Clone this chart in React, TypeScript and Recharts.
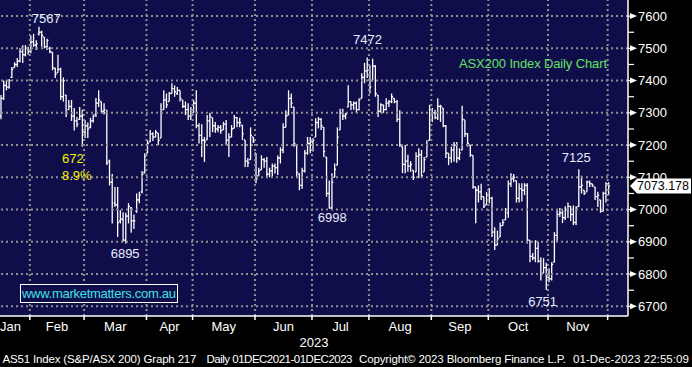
import React from "react";
import {
  ComposedChart,
  Bar,
  XAxis,
  YAxis,
  CartesianGrid,
  ReferenceLine,
  ReferenceDot,
} from "recharts";

// daily bars, [open, high, low, close], one small list per month (2023)
type Row = [number, number, number, number];

const jan: Row[] = [
  [7290, 7355, 7280, 7345], [7345, 7400, 7340, 7385], [7385, 7400, 7370, 7380],
  [7380, 7405, 7375, 7400], [7410, 7442, 7408, 7435], [7440, 7457, 7440, 7450],
  [7450, 7470, 7442, 7460], [7460, 7500, 7457, 7490], [7490, 7510, 7455, 7480],
  [7480, 7510, 7475, 7500], [7500, 7505, 7480, 7490],
];
const feb: Row[] = [
  [7490, 7540, 7485, 7520], [7520, 7545, 7505, 7510], [7510, 7525, 7495, 7515],
  [7545, 7567, 7540, 7550], [7550, 7555, 7505, 7540], [7535, 7535, 7500, 7505],
  [7505, 7530, 7495, 7525], [7500, 7505, 7485, 7490], [7488, 7488, 7432, 7440],
  [7438, 7440, 7408, 7420], [7425, 7480, 7425, 7435], [7435, 7440, 7340, 7350],
  [7350, 7410, 7335, 7400], [7355, 7355, 7287, 7300], [7310, 7340, 7310, 7320],
  [7320, 7340, 7275, 7290], [7290, 7315, 7245, 7275], [7275, 7287, 7255, 7265],
  [7280, 7318, 7278, 7290], [7290, 7310, 7195, 7240],
];
const mar: Row[] = [
  [7240, 7278, 7222, 7260], [7260, 7270, 7222, 7250], [7255, 7284, 7252, 7275],
  [7275, 7295, 7270, 7290], [7295, 7346, 7287, 7330], [7330, 7370, 7318, 7340],
  [7335, 7335, 7300, 7305], [7305, 7330, 7295, 7310], [7300, 7310, 7138, 7145],
  [7150, 7155, 7075, 7085], [7085, 7110, 6957, 7000], [7020, 7070, 7008, 7015],
  [7015, 7070, 6915, 6960], [6965, 6998, 6957, 6970], [6970, 6992, 6900, 6905],
  [6905, 6990, 6895, 6980], [6980, 7020, 6957, 7010], [7005, 7008, 6928, 6965],
  [6965, 6985, 6940, 6965], [6995, 7050, 6990, 7030], [7030, 7055, 7020, 7045],
  [7055, 7120, 7050, 7110], [7115, 7175, 7112, 7165],
];
const apr: Row[] = [
  [7175, 7215, 7175, 7205], [7210, 7247, 7210, 7235], [7235, 7240, 7213, 7225],
  [7225, 7247, 7225, 7240], [7237, 7237, 7200, 7215], [7222, 7330, 7222, 7300],
  [7310, 7370, 7310, 7340], [7340, 7360, 7315, 7325], [7335, 7365, 7335, 7360],
  [7360, 7392, 7360, 7375], [7375, 7385, 7350, 7365], [7360, 7380, 7355, 7370],
  [7370, 7370, 7335, 7345], [7340, 7340, 7315, 7320], [7320, 7335, 7293, 7310],
  [7310, 7330, 7278, 7290], [7290, 7318, 7278, 7300],
];
const may: Row[] = [
  [7300, 7340, 7300, 7330], [7330, 7370, 7252, 7260], [7260, 7268, 7205, 7230],
  [7230, 7265, 7163, 7215], [7215, 7225, 7148, 7210], [7216, 7293, 7216, 7275],
  [7275, 7300, 7225, 7290], [7285, 7285, 7240, 7260], [7260, 7272, 7238, 7250],
  [7250, 7262, 7240, 7255], [7255, 7262, 7235, 7245], [7247, 7272, 7247, 7265],
  [7265, 7278, 7200, 7215], [7215, 7237, 7163, 7225], [7225, 7262, 7225, 7250],
  [7252, 7293, 7252, 7285], [7285, 7287, 7255, 7270], [7270, 7285, 7255, 7270],
  [7262, 7262, 7216, 7235], [7216, 7216, 7132, 7150], [7150, 7160, 7132, 7145],
  [7155, 7255, 7155, 7230], [7225, 7225, 7207, 7210],
];
const jun: Row[] = [
  [7175, 7175, 7082, 7095], [7105, 7130, 7105, 7120], [7123, 7168, 7123, 7155],
  [7155, 7160, 7130, 7150], [7150, 7163, 7098, 7110], [7110, 7130, 7100, 7120],
  [7120, 7143, 7103, 7135], [7135, 7143, 7112, 7130], [7130, 7168, 7107, 7160],
  [7160, 7193, 7143, 7185], [7185, 7268, 7175, 7255], [7255, 7308, 7255, 7290],
  [7293, 7370, 7293, 7345], [7345, 7360, 7315, 7330], [7318, 7318, 7195, 7205],
  [7200, 7200, 7100, 7115], [7110, 7113, 7060, 7075], [7075, 7130, 7065, 7120],
  [7120, 7185, 7115, 7175], [7175, 7225, 7170, 7205], [7205, 7225, 7175, 7210],
];
const jul: Row[] = [
  [7210, 7222, 7180, 7215], [7225, 7283, 7225, 7270], [7270, 7287, 7252, 7280],
  [7280, 7283, 7247, 7260], [7255, 7255, 7163, 7180], [7163, 7163, 7040, 7050],
  [7050, 7090, 7003, 7005], [7005, 7113, 6998, 7085], [7100, 7143, 7100, 7125],
  [7138, 7255, 7138, 7225], [7247, 7313, 7247, 7300], [7300, 7313, 7278, 7290],
  [7290, 7300, 7280, 7295], [7318, 7386, 7318, 7335], [7335, 7335, 7308, 7325],
  [7325, 7335, 7310, 7330], [7330, 7335, 7300, 7310], [7310, 7345, 7308, 7340],
  [7345, 7423, 7345, 7410], [7410, 7455, 7392, 7430], [7430, 7472, 7408, 7450],
];
const aug: Row[] = [
  [7448, 7448, 7360, 7380], [7400, 7468, 7400, 7445], [7445, 7448, 7350, 7360],
  [7355, 7355, 7287, 7305], [7305, 7330, 7300, 7325], [7325, 7325, 7300, 7310],
  [7310, 7345, 7308, 7330], [7330, 7340, 7318, 7335], [7335, 7360, 7330, 7350],
  [7345, 7345, 7330, 7335], [7335, 7340, 7272, 7280], [7280, 7308, 7195, 7200],
  [7195, 7195, 7113, 7140], [7140, 7200, 7113, 7150], [7150, 7170, 7117, 7135],
  [7135, 7150, 7117, 7140], [7122, 7122, 7092, 7100], [7117, 7178, 7117, 7165],
  [7165, 7190, 7098, 7170], [7170, 7185, 7098, 7105], [7117, 7163, 7117, 7155],
  [7163, 7215, 7163, 7200], [7215, 7325, 7215, 7310],
];
const sep: Row[] = [
  [7310, 7315, 7272, 7300], [7300, 7310, 7280, 7285], [7285, 7345, 7278, 7320],
  [7320, 7325, 7272, 7320], [7315, 7315, 7255, 7260], [7260, 7262, 7160, 7175],
  [7175, 7175, 7138, 7160], [7160, 7195, 7145, 7185], [7185, 7210, 7148, 7200],
  [7200, 7210, 7145, 7160], [7160, 7190, 7153, 7175], [7185, 7322, 7185, 7280],
  [7278, 7278, 7225, 7235], [7235, 7237, 7195, 7205], [7200, 7200, 7163, 7170],
  [7168, 7168, 7065, 7070], [7070, 7070, 6958, 7060], [7060, 7075, 7022, 7055],
  [7055, 7080, 7030, 7040], [7040, 7040, 7005, 7010], [7015, 7055, 7015, 7045],
];
const oct: Row[] = [
  [7045, 7067, 7020, 7035], [7035, 7040, 6915, 6930], [6930, 6945, 6875, 6890],
  [6890, 6935, 6890, 6910], [6915, 6960, 6915, 6950], [6950, 6970, 6950, 6960],
  [6968, 7005, 6968, 7000], [6990, 7090, 6975, 7080], [7080, 7113, 7070, 7095],
  [7095, 7110, 7085, 7100], [7090, 7090, 7022, 7035], [7035, 7082, 7022, 7065],
  [7065, 7082, 7025, 7060], [7060, 7082, 7045, 7075], [7075, 7082, 6895, 6905],
  [6905, 6905, 6837, 6855], [6855, 6865, 6843, 6850], [6850, 6905, 6837, 6880],
  [6880, 6900, 6835, 6840], [6840, 6852, 6780, 6800], [6803, 6850, 6803, 6820],
  [6820, 6835, 6751, 6790],
];
const nov: Row[] = [
  [6790, 6818, 6775, 6785], [6785, 6837, 6780, 6830], [6837, 6930, 6837, 6920],
  [6920, 6998, 6900, 6985], [6985, 7005, 6977, 6990], [6990, 6998, 6958, 6975],
  [6975, 7010, 6968, 7000], [7000, 7022, 6974, 7010], [7010, 7010, 6965, 6985],
  [6985, 7013, 6952, 6960], [6960, 7010, 6952, 7005], [7010, 7125, 7008, 7070],
  [7070, 7105, 7050, 7075], [7060, 7060, 7045, 7050], [7055, 7090, 7055, 7085],
  [7085, 7090, 7070, 7080], [7080, 7080, 7070, 7075], [7070, 7070, 7030, 7040],
  [7040, 7055, 7008, 7045], [7030, 7030, 6990, 6995], [6995, 7055, 6995, 7050],
  [7050, 7085, 7022, 7080],
];
const dec: Row[] = [[7080, 7085, 7045, 7073.178]];

const monthNames = ["Jan", "Feb", "Mar", "Apr", "May", "Jun", "Jul", "Aug", "Sep", "Oct", "Nov"];
const monthRows = [jan, feb, mar, apr, may, jun, jul, aug, sep, oct, nov, dec];

const lastPrice = 7073.178;
// last price goes last so its tag is painted over the 7100 label, as in the original
const priceTicks = [
  6700, 6750, 6800, 6850, 6900, 6950, 7000, 7050, 7100, 7150, 7200,
  7250, 7300, 7350, 7400, 7450, 7500, 7550, 7600, 7073.178,
];

// bar index + price for the swing labels
const swings = [
  { bar: 14, value: 7567, text: "7567", dx: 7, dy: -4 },
  { bar: 46, value: 6895, text: "6895", dx: -1, dy: 15 },
  { bar: 122, value: 6998, text: "6998", dx: 0, dy: 12 },
  { bar: 135, value: 7472, text: "7472", dx: 0, dy: -13 },
  { bar: 213, value: 7125, text: "7125", dx: -3, dy: -7 },
  { bar: 201, value: 6751, text: "6751", dx: -4, dy: 16 },
];

const data: { i: number; o: number; h: number; l: number; c: number }[] = [];
const boundaries: number[] = [];
const monthMid: number[] = [];
{
  let i = 0;
  monthRows.forEach((rows, m) => {
    const start = i;
    rows.forEach(([o, h, l, c]) => {
      data.push({ i, o, h, l, c });
      i++;
    });
    if (m > 0) boundaries.push(start - 0.5);
    if (m < monthNames.length) monthMid.push(m === 0 ? 3.4 : (start + i - 1) / 2);
  });
}
const boundarySet = new Set(boundaries);

const NAVY = "#100e4a";
const GRID = "#8f8f8f";
const FONT = "'Liberation Sans', Arial, sans-serif";

function OhlcBar(props: any) {
  const { x, y, width, height, payload } = props;
  if (height == null || payload == null) return null;
  const cx = x + width / 2;
  const range = payload.h - payload.l || 1;
  const yo = y + ((payload.h - payload.o) / range) * height;
  const yc = y + ((payload.h - payload.c) / range) * height;
  return (
    <g stroke="#fff" strokeWidth={1.3}>
      <line x1={cx} x2={cx} y1={y} y2={y + height} />
      <line x1={cx - 1.4} x2={cx} y1={yo} y2={yo} />
      <line x1={cx} x2={cx + 1.4} y1={yc} y2={yc} />
    </g>
  );
}

function MonthTick(props: any) {
  const { x, y, payload } = props;
  const v = payload.value;
  if (boundarySet.has(v)) {
    return <line x1={x} x2={x} y1={y} y2={y + 4} stroke="#fff" strokeWidth={1.5} />;
  }
  const idx = monthMid.indexOf(v);
  return (
    <text x={x} y={y + 15} fill="#fff" fontSize={13} fontFamily={FONT} textAnchor="middle">
      {monthNames[idx]}
    </text>
  );
}

function PriceTick(props: any) {
  const { x, y, payload } = props;
  const v = payload.value;
  if (v === lastPrice) {
    return (
      <g>
        <polygon
          points={`${x + 2},${y} ${x + 9},${y - 7.5} ${x + 63},${y - 7.5} ${x + 63},${y + 7.5} ${x + 9},${y + 7.5}`}
          fill="#fff"
        />
        <text
          x={x + 9}
          y={y + 4.5}
          fill="#000"
          fontSize={13}
          fontFamily={FONT}
          textLength={52}
          lengthAdjust="spacingAndGlyphs"
        >
          {v.toFixed(3)}
        </text>
      </g>
    );
  }
  if (v % 100 !== 0) {
    return <line x1={x} x2={x + 6} y1={y} y2={y} stroke="#fff" strokeWidth={1.2} />;
  }
  return (
    <g>
      <line x1={x} x2={x + 3} y1={y} y2={y} stroke="#fff" strokeWidth={1.2} />
      <polygon points={`${x + 2},${y - 3} ${x + 9},${y} ${x + 2},${y + 3}`} fill="#fff" />
      <text x={x + 10} y={y + 4.5} fill="#fff" fontSize={13} fontFamily={FONT}>
        {v}
      </text>
    </g>
  );
}

function swingLabel(s: (typeof swings)[number]) {
  return (p: any) => {
    const vb = p.viewBox || {};
    const cx = vb.x + (vb.width || 0) / 2;
    const cy = vb.y + (vb.height || 0) / 2;
    return (
      <text x={cx + s.dx} y={cy + s.dy} fill="#e6ecff" fontSize={13} fontFamily={FONT} textAnchor="middle">
        {s.text}
      </text>
    );
  };
}

export default function App() {
  const gridY = priceTicks.filter((t) => t % 100 === 0);
  return (
    <div
      style={{
        position: "absolute",
        left: 0,
        top: 0,
        width: 692,
        height: 367,
        background: "#000",
        overflow: "hidden",
      }}
    >
      <ComposedChart
        width={692}
        height={367}
        data={data}
        margin={{ top: 0, right: 0, left: 0, bottom: 0 }}
      >
        <CartesianGrid fill={NAVY} horizontal={false} vertical={false} stroke="none" />
        {gridY.map((t) => (
          <ReferenceLine key={`h${t}`} y={t} stroke={GRID} strokeWidth={2} strokeDasharray="2 3" />
        ))}
        {boundaries.map((b) => (
          <ReferenceLine key={`v${b}`} x={b} stroke={GRID} strokeWidth={2} strokeDasharray="2 3" />
        ))}
        <XAxis
          dataKey="i"
          type="number"
          domain={[-0.5, 231]}
          ticks={[...boundaries, ...monthMid]}
          interval={0}
          tick={<MonthTick />}
          tickLine={false}
          tickSize={0}
          tickMargin={0}
          axisLine={{ stroke: "#fff", strokeWidth: 1.5 }}
          height={51}
        />
        <YAxis
          orientation="right"
          type="number"
          domain={[6670, 7650]}
          allowDataOverflow
          ticks={priceTicks}
          interval={0}
          tick={<PriceTick />}
          tickLine={false}
          tickSize={0}
          tickMargin={0}
          axisLine={{ stroke: "#fff", strokeWidth: 1.5 }}
          width={64}
        />
        <Bar
          dataKey={(d: any) => [d.l, d.h]}
          barSize={2}
          shape={(p: any) => <OhlcBar {...p} />}
          isAnimationActive={false}
        />
        {swings.map((s) => (
          <ReferenceDot
            key={s.text}
            x={s.bar}
            y={s.value}
            r={1}
            fill="none"
            stroke="none"
            label={swingLabel(s)}
          />
        ))}
      </ComposedChart>
      <svg
        width={692}
        height={367}
        style={{ position: "absolute", left: 0, top: 0, pointerEvents: "none" }}
        fontFamily={FONT}
      >
        <text x={62} y={163} fill="#f2f200" fontSize={13}>672</text>
        <text x={62} y={180} fill="#f2f200" fontSize={13}>8.9%</text>
        <text x={459} y={68} fill="#62e262" fontSize={13} textLength={148}>
          ASX200 Index Daily Chart
        </text>
        <rect x={20.5} y={284.5} width={157} height={18} fill={NAVY} stroke="#fff" strokeWidth={1} />
        <text x={22} y={298} fill="#3fe0e6" fontSize={13} textLength={154}>
          www.marketmatters.com.au
        </text>
        <text x={314} y={347} fill="#fff" fontSize={13} textAnchor="middle">2023</text>
        <g fill="#fff" fontSize={11.5}>
          <text x={2.5} y={363} textLength={194}>AS51 Index (S&amp;P/ASX 200) Graph 217</text>
          <text x={206.5} y={363} textLength={146}>Daily 01DEC2021-01DEC2023</text>
          <text x={359} y={363} textLength={207}>Copyright© 2023 Bloomberg Finance L.P.</text>
          <text x={573} y={363} textLength={116}>01-Dec-2023 22:55:09</text>
        </g>
      </svg>
    </div>
  );
}
